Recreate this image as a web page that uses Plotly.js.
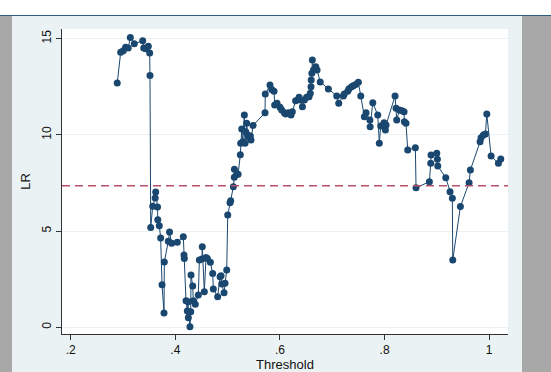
<!DOCTYPE html>
<html>
<head>
<meta charset="utf-8">
<script src="https://cdn.plot.ly/plotly-3.0.1.min.js"></script>
<style>
  html, body { margin: 0; padding: 0; width: 551px; height: 372px; overflow: hidden; background: #ffffff; }
  #topline { position: absolute; left: 0; top: 15px; width: 551px; height: 1px; background: #2b5f7e; }
  #leftbar { position: absolute; left: 0; top: 16px; width: 12px; height: 356px; background: #a8a8a8; }
  #rightbar { position: absolute; left: 522px; top: 16px; width: 29px; height: 356px; background: #a8a8a8; }
  #chart { position: absolute; left: 12px; top: 16px; width: 510px; height: 356px; }
</style>
</head>
<body>
<div id="topline"></div>
<div id="leftbar"></div>
<div id="rightbar"></div>
<div id="chart"></div>
<script>
const threshold = [
  0.289, 0.2956, 0.3006, 0.305, 0.310, 0.314, 0.3216, 0.3377, 0.3396, 0.3434,
  0.3484, 0.351, 0.3516, 0.353, 0.3568, 0.3615, 0.3625, 0.366, 0.3665, 0.3694,
  0.372, 0.3746, 0.3784, 0.379, 0.3866, 0.389, 0.393, 0.4038, 0.4153, 0.4166,
  0.4172, 0.4205, 0.423, 0.4245, 0.4249, 0.4256, 0.428, 0.4295, 0.430, 0.4333,
  0.4344, 0.4382, 0.444, 0.446, 0.451, 0.4516, 0.4555, 0.4587, 0.4612, 0.467,
  0.4715, 0.4727, 0.481, 0.4856, 0.4875, 0.4888, 0.4932, 0.4951, 0.4983, 0.5002,
  0.5046, 0.5059, 0.511, 0.5128, 0.513, 0.5174, 0.520, 0.5243, 0.525, 0.527,
  0.529, 0.532, 0.5333, 0.5346, 0.5365, 0.5384, 0.541, 0.5434, 0.5447, 0.5486,
  0.5715, 0.572, 0.581, 0.5843, 0.5887, 0.590, 0.5945, 0.6002, 0.6034, 0.6084,
  0.611, 0.616, 0.6212, 0.6237, 0.630, 0.6366, 0.639, 0.643, 0.6467, 0.651,
  0.6557, 0.658, 0.6594, 0.6598, 0.661, 0.662, 0.6642, 0.6685, 0.671, 0.677,
  0.6926, 0.7086, 0.7124, 0.7212, 0.723, 0.7296, 0.732, 0.737, 0.7403, 0.7449,
  0.7499, 0.7545, 0.7614, 0.7647, 0.772, 0.7725, 0.7775, 0.787, 0.790, 0.7927,
  0.799, 0.8016, 0.8029, 0.8201, 0.822, 0.8233, 0.8283, 0.8334, 0.8373, 0.8379,
  0.841, 0.8443, 0.8589, 0.8602, 0.8857, 0.8883, 0.8889, 0.8998, 0.901, 0.9017,
  0.917, 0.9252, 0.9296, 0.9304, 0.945, 0.9616, 0.9641, 0.9826, 0.9845, 0.989,
  0.9928, 0.9955, 1.0037, 1.0177, 1.0222
];
const lr = [
  12.69, 14.29, 14.37, 14.55, 14.51, 15.06, 14.73, 14.89, 14.51, 14.47,
  14.60, 14.25, 13.09, 5.19, 6.29, 6.72, 7.03, 6.25, 5.59, 5.28,
  4.64, 2.21, 0.74, 3.39, 4.47, 4.95, 4.36, 4.42, 4.71, 3.76,
  3.58, 1.38, 0.85, 1.33, 0.50, 0.81, 0.03, 0.81, 2.72, 2.15,
  1.38, 1.19, 1.68, 3.50, 3.55, 4.19, 1.85, 3.62, 3.58, 3.38,
  2.80, 1.99, 1.59, 2.63, 2.68, 2.25, 1.80, 2.29, 2.98, 5.83,
  6.47, 6.58, 7.30, 7.79, 8.21, 7.95, 7.95, 8.97, 9.56, 10.30,
  9.64, 11.03, 9.56, 10.16, 10.60, 9.99, 9.87, 9.94, 9.73, 10.49,
  11.15, 12.12, 12.59, 12.36, 12.27, 11.55, 11.64, 11.43, 11.29, 11.15,
  11.08, 11.15, 11.03, 11.20, 11.77, 11.95, 11.81, 11.46, 11.81, 11.95,
  11.98, 12.16, 12.50, 12.85, 13.20, 13.89, 13.37, 13.54, 13.37, 12.75,
  12.38, 12.02, 11.64, 12.02, 12.12, 12.27, 12.40, 12.50, 12.55, 12.62,
  12.73, 12.02, 10.94, 11.15, 10.77, 10.42, 11.67, 11.03, 9.56, 10.46,
  10.63, 10.25, 10.51, 12.02, 11.38, 10.77, 11.29, 11.25, 11.20, 10.68,
  10.60, 9.21, 9.33, 7.25, 7.56, 8.52, 8.95, 9.04, 8.73, 8.38,
  7.77, 7.04, 6.70, 3.50, 6.27, 7.51, 8.17, 9.64, 9.85, 9.99,
  10.04, 11.08, 8.90, 8.52, 8.74
];
const criticalValue = 7.36;
const xTickVals = [0.2, 0.4, 0.6, 0.8, 1.0];
const xTickText = [".2", ".4", ".6", ".8", "1"];
const yTickVals = [0, 5, 10, 15];
const yTickText = ["0", "5", "10", "15"];

const navy = "rgb(26,71,111)";
const trace = {
  x: threshold, y: lr, type: "scatter", mode: "lines+markers",
  line: { color: navy, width: 1 },
  marker: { color: navy, size: 7 },
  hoverinfo: "x+y"
};

const layout = {
  width: 510, height: 356,
  margin: { l: 50, r: 14, t: 13, b: 38 },
  paper_bgcolor: "rgb(234,242,243)",
  plot_bgcolor: "#ffffff",
  showlegend: false,
  font: { family: "Liberation Sans, Arial, sans-serif", size: 12, color: "#111" },
  xaxis: {
    range: [0.1834, 1.036],
    tickvals: xTickVals, ticktext: xTickText,
    ticks: "outside", ticklen: 5, tickcolor: "#333", tickwidth: 1,
    showline: true, linecolor: "#333", linewidth: 1,
    showgrid: false, zeroline: false,
    tickfont: { size: 12, color: "#111" },
    title: { text: "Threshold", font: { size: 13, color: "#111" }, standoff: 2 }
  },
  yaxis: {
    range: [-0.35, 15.5],
    tickvals: yTickVals, ticktext: yTickText,
    tickangle: -90,
    ticks: "outside", ticklen: 5, tickcolor: "#333", tickwidth: 1,
    showline: true, linecolor: "#333", linewidth: 1,
    showgrid: true, gridcolor: "rgb(234,242,243)", gridwidth: 1,
    zeroline: false,
    tickfont: { size: 12, color: "#111" },
    title: { text: "LR", font: { size: 13, color: "#111" }, standoff: 6 }
  },
  shapes: [{
    type: "line", xref: "paper", yref: "y",
    x0: 0, x1: 1, y0: criticalValue, y1: criticalValue,
    line: { color: "rgb(185,80,105)", width: 1.5, dash: "8px,5px" }
  }]
};

Plotly.newPlot("chart", [trace], layout, { displayModeBar: false, staticPlot: true });
</script>
</body>
</html>
